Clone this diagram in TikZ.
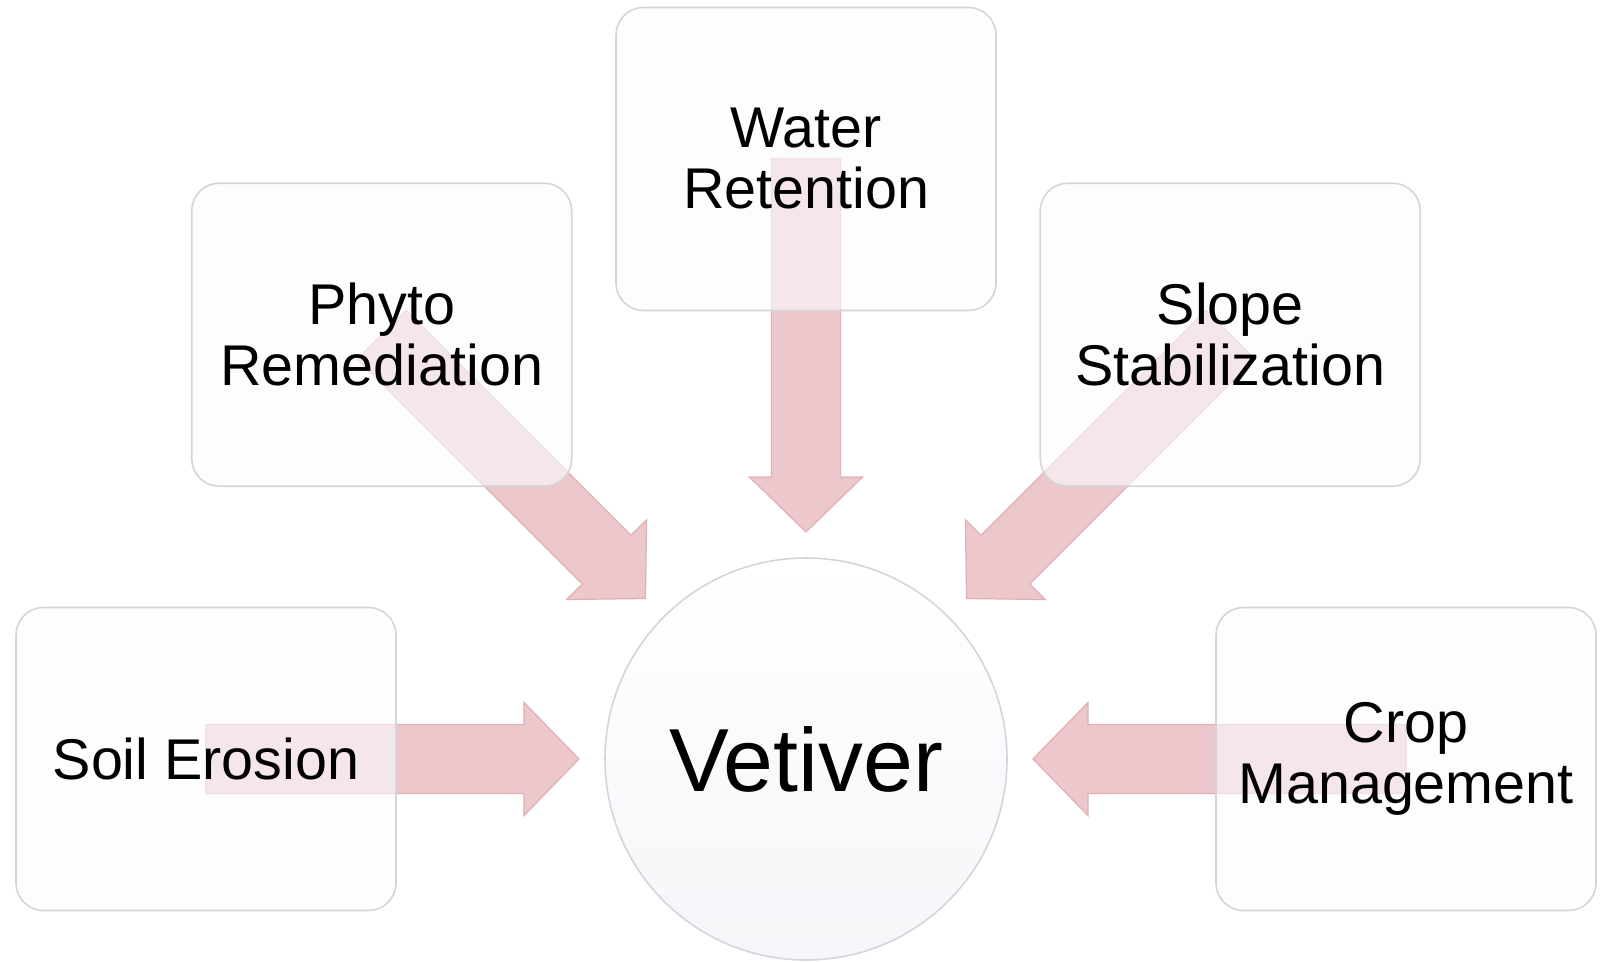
\documentclass[tikz,border=0pt]{standalone}
\usepackage{fontspec}
\setmainfont{Liberation Sans}
\usetikzlibrary{calc,backgrounds,positioning}
\definecolor{vetpink}{RGB}{236,199,203}
\definecolor{vetpinkedge}{RGB}{224,176,182}
\definecolor{vetbox}{RGB}{252,252,254}
\definecolor{vetline}{RGB}{212,212,220}
\definecolor{vetshade}{RGB}{246,246,250}

\begin{document}
\begin{tikzpicture}[
  topic/.style={draw=vetline, fill=vetbox, fill opacity=0.6, text opacity=1,
                draw opacity=1, rounded corners=0.55cm, line width=0.9pt,
                minimum width=7.6cm, minimum height=6.06cm,
                align=center, font=\fontsize{32.7}{34.7}\selectfont},
  hub/.style={circle, draw=vetline, line width=0.9pt,
              top color=white, bottom color=vetshade,
              minimum size=8.04cm, font=\fontsize{51}{55}\selectfont},
  fatarr/.style={fill=vetpink, draw=vetpinkedge, line width=0.7pt,
                 line join=miter}
]
\useasboundingbox (-16.12,-4.04) rectangle (15.96,15.18);
\node[hub] (vet) at (0,0) {Vetiver};
% the five uses, set round the hub
\node[topic] (soil)  at (180:12cm) {Soil Erosion};
\node[topic] (phyto) at (135:12cm) {Phyto\\Remediation};
\node[topic] (water) at (90:12cm)  {Water\\Retention};
\node[topic] (slope) at (45:12cm)  {Slope\\Stabilization};
\node[topic] (crop)  at (0:12cm)   {Crop\\Management};
% broad arrows, behind the boxes
\begin{scope}[on background layer]
\foreach \src in {soil,phyto,water,slope,crop}{
  \coordinate (tip) at ($(vet.center)!4.54cm!(\src.center)$);
  \coordinate (neck) at ($(tip)!1.1cm!(\src.center)$);
  \filldraw[fatarr] ($(\src.center)!0.69cm!90:(tip)$)
    -- ($(neck)!0.69cm!90:(tip)$) -- ($(neck)!1.13cm!90:(tip)$)
    -- (tip)
    -- ($(neck)!1.13cm!-90:(tip)$) -- ($(neck)!0.69cm!-90:(tip)$)
    -- ($(\src.center)!0.69cm!-90:(tip)$) -- cycle;
}
\end{scope}
\end{tikzpicture}
\end{document}
